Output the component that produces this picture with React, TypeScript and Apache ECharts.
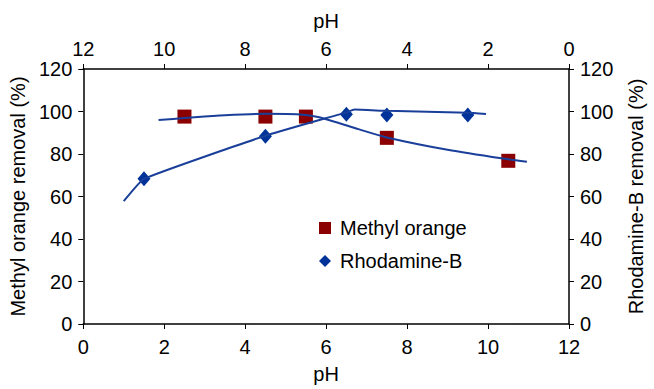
import React, { useEffect, useRef } from "react";
import * as echarts from "echarts";

// Measured points (bottom pH axis)
const moPH = [2.5, 4.5, 5.5, 7.5, 10.5];
const moRemoval = [97.6, 97.6, 97.6, 87.6, 76.8];
const rbPH = [1.5, 4.5, 6.5, 7.5, 9.5];
const rbRemoval = [68.3, 88.4, 98.7, 98.4, 98.4];

// Fitted trend curves
const moFitPH = [1.86, 2.5, 3.5, 4.5, 5.5, 5.8, 6.33, 6.8, 7.5, 9.0, 10.5, 10.96];
const moFitVal = [96.0, 96.9, 98.2, 98.9, 98.4, 97.4, 94.5, 91.7, 87.8, 82.0, 77.5, 76.4];
const rbFitPH = [1.0, 1.5, 4.5, 6.5, 6.7, 7.5, 9.5, 9.95];
const rbFitVal = [57.8, 68.3, 88.6, 99.6, 100.9, 100.3, 99.4, 98.8];

const xTicks = { min: 0, max: 12, interval: 2 };
const yTicks = { min: 0, max: 120, interval: 20 };

const FONT = "Liberation Sans, Arial, Helvetica, sans-serif";
const FS = 20;

export default function App() {
  const ref = useRef<HTMLDivElement>(null);
  useEffect(() => {
    if (!ref.current) return;
    const chart = echarts.init(ref.current, undefined, { renderer: "svg" });
    const axisLine = { show: true, onZero: false, lineStyle: { color: "#000", width: 1.5 } };
    const axisTick = { show: true, inside: false, length: 5, lineStyle: { color: "#000", width: 1 } };
    const label = (margin: number) => ({ color: "#000", fontSize: FS, fontFamily: FONT, margin });
    const nameStyle = { color: "#000", fontSize: FS, fontFamily: FONT };
    chart.setOption({
      animation: false,
      backgroundColor: "#fff",
      textStyle: { fontFamily: FONT },
      grid: { left: 78, right: 79, top: 69, bottom: 62, containLabel: false },
      legend: {
        orient: "vertical",
        left: 314,
        top: 213,
        itemWidth: 12,
        itemHeight: 12,
        itemGap: 13,
        symbolKeepAspect: true,
        textStyle: { color: "#000", fontSize: FS, fontFamily: FONT, padding: [0, 0, 0, 4] },
        data: [
          { name: "Methyl orange", icon: "rect" },
          { name: "Rhodamine-B", icon: "diamond" },
        ],
      },
      xAxis: [
        {
          type: "value",
          position: "bottom",
          ...xTicks,
          name: "pH",
          nameLocation: "middle",
          nameGap: 40,
          nameTextStyle: nameStyle,
          axisLine,
          axisTick,
          axisLabel: label(13),
          splitLine: { show: false },
        },
        {
          type: "value",
          position: "top",
          inverse: true,
          ...xTicks,
          name: "pH",
          nameLocation: "middle",
          nameGap: 38,
          nameTextStyle: nameStyle,
          axisLine,
          axisTick,
          axisLabel: label(10),
          splitLine: { show: false },
        },
      ],
      yAxis: [
        {
          type: "value",
          position: "left",
          ...yTicks,
          name: "Methyl orange removal (%)",
          nameLocation: "middle",
          nameGap: 50,
          nameTextStyle: nameStyle,
          axisLine,
          axisTick,
          axisLabel: label(11),
          splitLine: { show: false },
        },
        {
          type: "value",
          position: "right",
          ...yTicks,
          name: "Rhodamine-B removal (%)",
          nameLocation: "middle",
          nameGap: 57,
          nameTextStyle: nameStyle,
          axisLine,
          axisTick,
          axisLabel: label(11),
          splitLine: { show: false },
        },
      ],
      series: [
        {
          name: "Methyl orange",
          type: "scatter",
          xAxisIndex: 0,
          yAxisIndex: 0,
          symbol: "rect",
          symbolSize: 14,
          itemStyle: { color: "#8b0000", opacity: 1 },
          z: 2,
          data: moPH.map((x, i) => [x, moRemoval[i]]),
        },
        {
          name: "Rhodamine-B",
          type: "scatter",
          xAxisIndex: 0,
          yAxisIndex: 1,
          symbol: "diamond",
          symbolSize: [13, 15],
          itemStyle: { color: "#003399", opacity: 1 },
          z: 2,
          data: rbPH.map((x, i) => [x, rbRemoval[i]]),
        },
        {
          name: "moFit",
          type: "line",
          xAxisIndex: 0,
          yAxisIndex: 0,
          showSymbol: false,
          symbol: "none",
          smooth: 0.3,
          lineStyle: { color: "#1a3f9a", width: 2 },
          z: 3,
          data: moFitPH.map((x, i) => [x, moFitVal[i]]),
        },
        {
          name: "rbFit",
          type: "line",
          xAxisIndex: 0,
          yAxisIndex: 1,
          showSymbol: false,
          symbol: "none",
          smooth: 0.12,
          lineStyle: { color: "#1a3f9a", width: 2 },
          z: 3,
          data: rbFitPH.map((x, i) => [x, rbFitVal[i]]),
        },
      ],
    });
    return () => chart.dispose();
  }, []);
  return (
    <div
      ref={ref}
      style={{ position: "fixed", left: 0, top: 0, width: 654, height: 389, background: "#fff" }}
    />
  );
}
